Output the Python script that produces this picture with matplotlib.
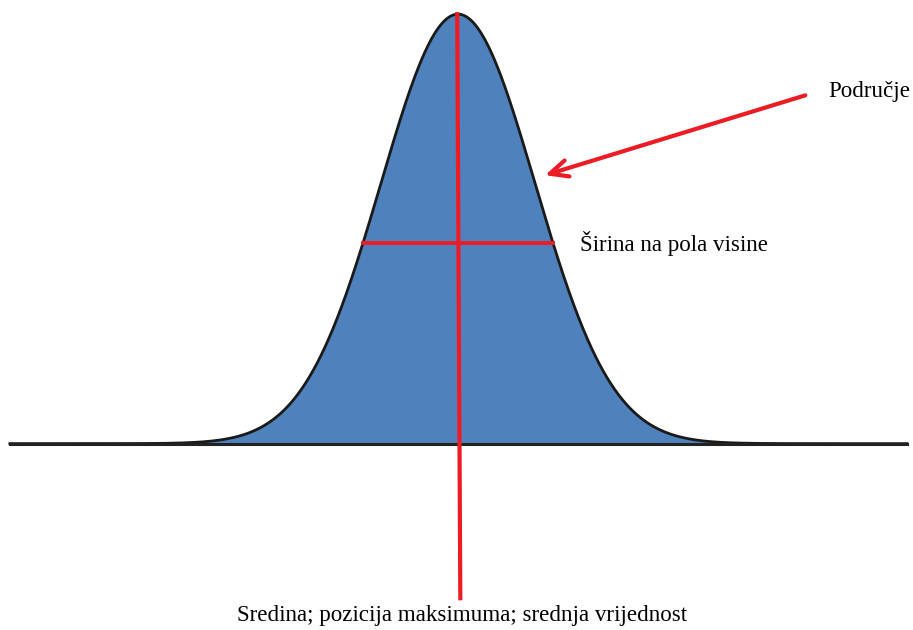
import matplotlib.pyplot as plt
import numpy as np

# curve parameters (in units of sigma / peak height)
mu = 0.0
sigma = 1.0
peak = 1.0
x_range = [-5.82, 5.83]

# annotation geometry (data units)
half_level = 0.467
mean_line = [(-0.01, 1.0), (0.03, -0.36)]
arrow_from = (4.51, 0.811)
arrow_to = (1.13, 0.625)

labels = {
    "area": "Područje",
    "fwhm": "Širina na pola visine",
    "mean": "Sredina; pozicija maksimuma; srednja vrijednost",
}

BLUE = "#4f81bd"
RED = "#ed1c24"


def main():
    plt.rcParams["font.family"] = ["Liberation Serif", "DejaVu Serif"]

    fig = plt.figure(figsize=(9.13, 6.30), dpi=100)
    ax = fig.add_axes([0, 0, 1, 1])
    ax.set_xlim(-5.948, 5.909)
    ax.set_ylim(-0.434, 1.033)
    ax.axis("off")

    xs = np.linspace(x_range[0], x_range[1], 1200)
    ys = peak * np.exp(-((xs - mu) ** 2) / (2 * sigma ** 2))

    ax.fill_between(xs, 0, ys, color=BLUE, lw=0, zorder=1)
    ax.plot(xs, ys, color="#1a1a1a", lw=2.0, zorder=2)
    ax.plot(x_range, [0, 0], color="#222222", lw=2.2, zorder=2)

    # half-height width line
    hw = sigma * np.sqrt(-2 * np.log(half_level / peak))
    ax.plot([mu - hw, mu + hw], [half_level, half_level], color=RED, lw=2.8, zorder=3)

    # mean line
    ax.plot([p[0] for p in mean_line], [p[1] for p in mean_line],
            color=RED, lw=3.0, zorder=3)

    # arrow pointing at the area
    ax.annotate("", xy=arrow_to, xytext=arrow_from,
                arrowprops=dict(arrowstyle="->,head_length=1.3,head_width=0.6",
                                color=RED, lw=3.0, shrinkA=0, shrinkB=0),
                zorder=4)

    ax.text(4.805, 0.82, labels["area"], fontsize=16.6, ha="left", va="center")
    ax.text(1.584, 0.467, labels["fwhm"], fontsize=16.6, ha="left", va="center")
    ax.text(0.05, -0.40, labels["mean"], fontsize=16.6, ha="center", va="center")

    fig.savefig("out.png", dpi=100)


if __name__ == "__main__":
    main()
